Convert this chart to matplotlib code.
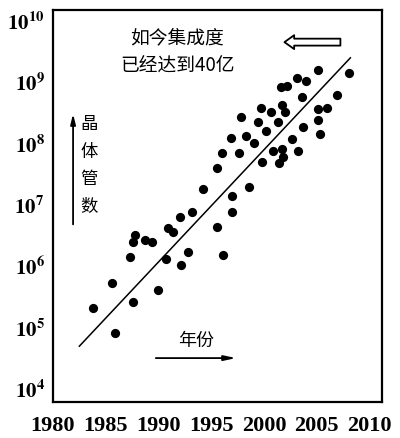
import matplotlib
matplotlib.use("Agg")
import matplotlib.pyplot as plt
import numpy as np

plt.rcParams['font.family'] = ['Noto Sans CJK SC', 'DejaVu Sans']
plt.rcParams['mathtext.fontset'] = 'stix'

# data: year, log10(transistor count)
years = [1983.8, 1985.9, 1985.6, 1987.6, 1987.3, 1987.6, 1987.8, 1988.7, 1989.4,
         1990.0, 1990.7, 1990.9, 1991.4, 1992.1, 1992.8, 1992.0, 1993.2, 1996.1,
         1995.6, 1997.0, 1997.0, 1994.2, 1998.6, 1995.6, 1996.0, 1997.6, 1996.9,
         1998.3, 1999.1, 1997.8, 1999.4, 1999.7, 2000.7, 2001.7, 2002.0, 2000.2,
         2001.6, 2002.2, 2001.3, 2005.1, 2008.1, 2003.1, 2004.0, 2003.6, 2006.9,
         2005.1, 2006.0, 2005.1, 2003.7, 2005.3, 2002.7, 2000.9, 2001.7, 2003.2,
         2001.8, 2001.4, 1999.8]
log_count = [5.32, 4.91, 5.73, 5.42, 6.15, 6.40, 6.51, 6.43, 6.40,
             5.61, 6.12, 6.63, 6.56, 6.02, 6.23, 6.81, 6.89, 6.19,
             6.64, 6.89, 7.15, 7.26, 7.30, 7.61, 7.85, 7.85, 8.09,
             8.13, 8.01, 8.44, 8.36, 8.58, 8.52, 8.63, 8.52, 8.21,
             8.93, 8.94, 8.36, 9.20, 9.16, 9.07, 9.02, 8.76, 8.80,
             8.57, 8.58, 8.39, 8.27, 8.16, 8.08, 7.88, 7.92, 7.88,
             7.78, 7.69, 7.70]

# trend line end points
fit_years = [1982.5, 2008.2]
fit_log = [4.70, 9.40]

xticks = [1980, 1985, 1990, 1995, 2000, 2005, 2010]
yticks = [4, 5, 6, 7, 8, 9, 10]

fig = plt.figure(figsize=(4.0, 4.38), dpi=100)
ax = fig.add_axes([0.1325, 0.0822, 0.8225, 0.895])

ax.set_yscale('log')
ax.scatter(years, 10.0 ** np.array(log_count), s=44, color='black', zorder=3,
           linewidths=0)
ax.plot(fit_years, 10.0 ** np.array(fit_log), color='black', lw=1.1)

ax.set_xlim(1980, 2011.2)
ax.set_ylim(10 ** 3.79, 10 ** 10.18)
ax.set_xticks(xticks)
ax.set_xticklabels([str(t) for t in xticks], family='Liberation Serif',
                   fontsize=16, fontweight='bold')
ax.set_yticks([10.0 ** k for k in yticks])
ax.set_yticklabels([r'$\mathbf{10^{%d}}$' % k for k in yticks], fontsize=15)
ax.minorticks_off()
ax.tick_params(axis='both', length=0)
ax.tick_params(axis='x', pad=10)
ax.tick_params(axis='y', pad=6)
for s in ax.spines.values():
    s.set_linewidth(1.6)

# annotations
ax.text(0.377, 0.929, '如今集成度', transform=ax.transAxes, ha='center',
        va='center', fontsize=13.5)
ax.text(0.377, 0.860, '已经达到40亿', transform=ax.transAxes, ha='center',
        va='center', fontsize=13.5)
ax.annotate('', xy=(0.695, 0.918), xytext=(0.882, 0.918),
            xycoords='axes fraction',
            arrowprops=dict(arrowstyle='simple,head_length=0.7,head_width=1.0,tail_width=0.5',
                            fc='white', ec='black', lw=1.3))

ax.annotate('', xy=(0.061, 0.742), xytext=(0.061, 0.446),
            xycoords='axes fraction',
            arrowprops=dict(arrowstyle='-|>,head_length=0.6,head_width=0.15',
                            fc='black', ec='black', lw=1.3))
for i, ch in enumerate('晶体管数'):
    ax.text(0.11, 0.71 - i * 0.071, ch, transform=ax.transAxes, ha='center',
            va='center', fontsize=12.5)

ax.text(0.435, 0.156, '年份', transform=ax.transAxes, ha='center',
        va='center', fontsize=13)
ax.annotate('', xy=(0.565, 0.112), xytext=(0.304, 0.112),
            xycoords='axes fraction',
            arrowprops=dict(arrowstyle='-|>,head_length=0.7,head_width=0.15',
                            fc='black', ec='black', lw=1.3))

fig.savefig('out.png', dpi=100)
